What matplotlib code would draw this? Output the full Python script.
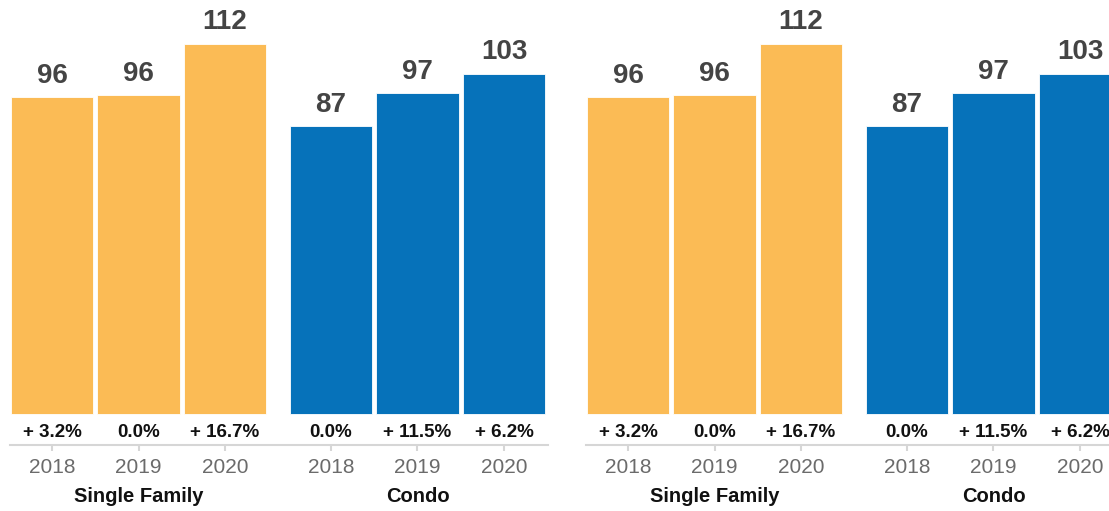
import matplotlib
matplotlib.use("Agg")
import matplotlib.pyplot as plt
import matplotlib.transforms as mtransforms

plt.rcParams['font.family'] = ['Liberation Sans', 'DejaVu Sans']

groups = ["Single Family", "Condo"]
years = ["2018", "2019", "2020"]
single_family = [95.8, 96.4, 112.0]
condo = [87.0, 97.0, 103.0]
sf_labels = ["96", "96", "112"]
condo_labels = ["87", "97", "103"]
sf_change = ["+ 3.2%", "0.0%", "+ 16.7%"]
condo_change = ["0.0%", "+ 11.5%", "+ 6.2%"]

YELLOW = "#FBBB55"
BLUE = "#0672BA"

W, H = 1109, 511
fig = plt.figure(figsize=(W / 100, H / 100), dpi=100)

px_per_unit = 3.30          # vertical pixels per value unit
unit_px = 86.5              # horizontal pixels per bar slot
axis_px = 445.0             # y pixel of the axis line
zero_px = 413.5             # y pixel of bar base
ax_w_px = 556


def draw_panel(left_px):
    ax = fig.add_axes([left_px / W, (H - axis_px) / H, ax_w_px / W, axis_px / H])
    ax.set_facecolor("none")
    x_sf = [0, 1, 2]
    x_co = [3.225, 4.225, 5.225]
    ax.bar(x_sf, single_family, width=0.95, color=YELLOW, edgecolor="white", linewidth=0.6)
    ax.bar(x_co, condo, width=0.95, color=BLUE, edgecolor="white", linewidth=0.6)

    x0 = -52 / unit_px
    ax.set_xlim(x0, x0 + ax_w_px / unit_px)
    ax.set_ylim(-(axis_px - zero_px) / px_per_unit, zero_px / px_per_unit)

    for xs, vals, labs, chg in ((x_sf, single_family, sf_labels, sf_change),
                                (x_co, condo, condo_labels, condo_change)):
        for x, v, lab, c in zip(xs, vals, labs, chg):
            ax.annotate(lab, (x, v), xytext=(0, 10.5), textcoords="offset points",
                        ha="center", va="baseline", fontsize=20, fontweight="bold",
                        color="#444444")
            ax.text(x, -(432 - zero_px) / px_per_unit, c, ha="center", va="center",
                    fontsize=13.5, fontweight="bold", color="#111111")

    ax.set_xticks(x_sf + x_co)
    ax.set_xticklabels(years + years)
    ax.tick_params(axis="x", length=4.5, width=1.5, color="#d6d6d6", pad=4.5,
                   labelsize=15, labelcolor="#6b6b6b")
    ax.set_yticks([])
    for s in ("top", "left", "right"):
        ax.spines[s].set_visible(False)
    ax.spines["bottom"].set_color("#d6d6d6")
    ax.spines["bottom"].set_linewidth(1.5)
    ax.spines["bottom"].set_bounds(-0.48, 5.73)

    trans = mtransforms.blended_transform_factory(ax.transData, ax.transAxes)
    for gx, g in zip((1, 4.225), groups):
        ax.text(gx, -(496 - axis_px) / axis_px, g, transform=trans, ha="center",
                va="center", fontsize=14.5, fontweight="bold", color="#111111")


draw_panel(0)
draw_panel(576)

fig.savefig("out.png", dpi=100)
